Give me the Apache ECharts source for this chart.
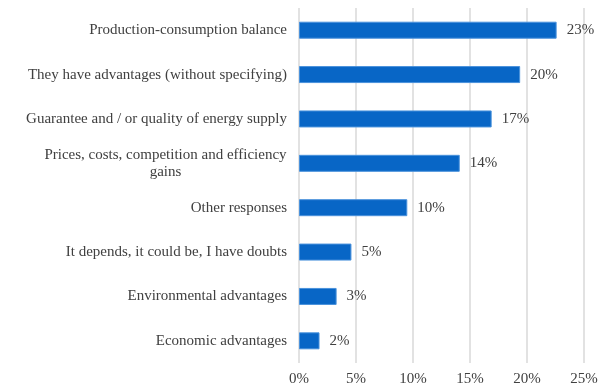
<!DOCTYPE html>
<html><head><meta charset="utf-8">
<script src="https://cdn.jsdelivr.net/npm/echarts@6/dist/echarts.min.js"></script>
<style>html,body{margin:0;padding:0;background:#fff}#c{width:608px;height:387px}</style>
</head><body><div id="c"></div>
<script>
const categories = [
  "Production-consumption balance",
  "They have advantages (without specifying)",
  "Guarantee and / or quality of energy supply",
  "Prices, costs, competition and efficiency\ngains",
  "Other responses",
  "It depends, it could be, I have doubts",
  "Environmental advantages",
  "Economic advantages"
];
const values = [22.6, 19.4, 16.9, 14.1, 9.5, 4.6, 3.3, 1.8];
const valueLabels = ["23%", "20%", "17%", "14%", "10%", "5%", "3%", "2%"];
const tickLabels = ["0%", "5%", "10%", "15%", "20%", "25%"];

const FONT = '"Liberation Serif", "Times New Roman", serif';
const FS = 15;
const cv = document.createElement('canvas').getContext('2d');
cv.font = FS + 'px ' + FONT;
function textW(s) { return Math.ceil(cv.measureText(s).width); }

const chart = echarts.init(document.getElementById('c'), null, {renderer: 'canvas'});
chart.setOption({
  animation: false,
  grid: {left: 299, right: 24, top: 8, bottom: 23, containLabel: false},
  xAxis: {
    type: 'value', min: 0, max: 25, interval: 5,
    axisLine: {show: false}, axisTick: {show: false},
    splitLine: {lineStyle: {color: '#d9d9d9', width: 1.5}},
    axisLabel: {
      fontFamily: FONT, fontSize: FS, color: '#404040', margin: 9,
      formatter: v => tickLabels[Math.round(v / 5)]
    }
  },
  yAxis: {
    type: 'category', inverse: true, data: categories,
    axisLine: {show: false}, axisTick: {show: false},
    axisLabel: {
      fontFamily: FONT, fontSize: FS, color: '#404040', margin: 12,
      formatter: v => {
        if (v.indexOf('\n') >= 0) {
          const lines = v.split('\n');
          const w = Math.max.apply(null, lines.map(textW));
          return lines.map(s => '{c' + w + '|' + s + '}').join('\n');
        }
        return v;
      },
      rich: (function () {
        const r = {};
        categories.forEach(c => {
          if (c.indexOf('\n') >= 0) {
            const w = Math.max.apply(null, c.split('\n').map(textW));
            r['c' + w] = {fontFamily: FONT, fontSize: FS, color: '#404040', width: w, align: 'center', lineHeight: 17};
          }
        });
        return r;
      })()
    }
  },
  series: [{
    type: 'bar', data: values, barWidth: 17,
    itemStyle: {color: '#0866c6', borderColor: '#4a92dc', borderWidth: 1},
    label: {
      show: true, position: 'right', distance: 10,
      fontFamily: FONT, fontSize: FS, color: '#404040',
      formatter: p => valueLabels[p.dataIndex]
    }
  }]
});
</script></body></html>
